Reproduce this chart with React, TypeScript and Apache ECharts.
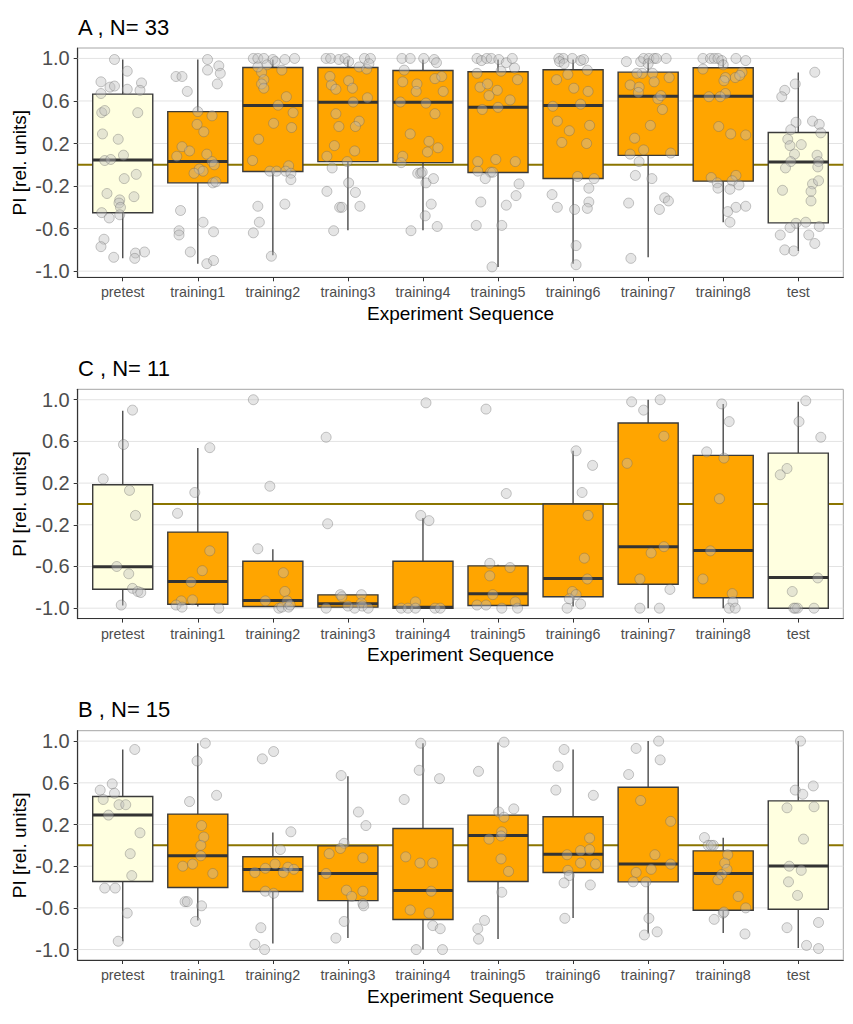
import React, { useEffect, useRef } from "react";
import * as echarts from "echarts";

const categories = ["pretest", "training1", "training2", "training3", "training4", "training5", "training6", "training7", "training8", "test"];
const controlCategories = ["pretest", "test"];
const yTicks = [-1.0, -0.6, -0.2, 0.2, 0.6, 1.0];
const panelTitles = ["A , N= 33", "C , N= 11", "B , N= 15"];
const yRanges = [[-1.058, 1.098], [-1.1, 1.1], [-1.1, 1.1]];
const xTitle = "Experiment Sequence";
const yTitle = "PI [rel. units]";

// box stats: [lowerWhisker, Q1, median, Q3, upperWhisker]
const boxA = [
  [-0.88, -0.451, 0.044, 0.664, 0.99],
  [-0.93, -0.17, 0.03, 0.5, 0.99],
  [-0.85, -0.063, 0.558, 0.915, 0.99],
  [-0.615, 0.03, 0.589, 0.915, 0.99],
  [-0.615, 0.02, 0.589, 0.887, 0.99],
  [-0.96, -0.072, 0.542, 0.874, 0.99],
  [-0.93, -0.129, 0.558, 0.893, 0.99],
  [-0.87, 0.088, 0.645, 0.871, 0.99],
  [-0.54, -0.154, 0.645, 0.912, 0.99],
  [-0.81, -0.546, 0.025, 0.304, 0.868],
];
const boxC = [
  [-0.974, -0.818, -0.603, 0.184, 0.894],
  [-0.984, -0.962, -0.744, -0.27, 0.536],
  [-0.984, -0.984, -0.926, -0.55, -0.434],
  [-0.99, -0.99, -0.958, -0.872, -0.872],
  [-1.0, -1.0, -0.99, -0.55, -0.136],
  [-0.974, -0.974, -0.862, -0.594, -0.584],
  [-0.984, -0.89, -0.715, 0.0, 0.51],
  [-1.0, -0.77, -0.41, 0.776, 1.0],
  [-1.0, -0.9, -0.446, 0.466, 0.96],
  [-1.0, -1.0, -0.706, 0.488, 0.98],
];
const boxB = [
  [-0.92, -0.347, 0.29, 0.469, 0.92],
  [-0.72, -0.405, -0.1, 0.3, 0.98],
  [-0.942, -0.443, -0.232, -0.11, 0.123],
  [-0.888, -0.53, -0.27, -0.005, 0.664],
  [-1.0, -0.712, -0.434, 0.162, 0.98],
  [-0.898, -0.347, 0.094, 0.29, 0.987],
  [-0.696, -0.26, -0.085, 0.274, 0.92],
  [-0.846, -0.35, -0.18, 0.558, 1.0],
  [-0.84, -0.623, -0.27, -0.053, 0.072],
  [-0.984, -0.613, -0.197, 0.427, 1.0],
];

// individual points per category: [jitter, value]
const pointsA = [
  [[-0.11, 0.99], [0.06, 0.88], [-0.29, 0.78], [-0.17, 0.73], [-0.11, 0.74], [0.25, 0.77], [0.06, 0.71], [0.23, 0.7], [-0.29, 0.67], [-0.28, 0.49], [-0.24, 0.51], [0.2, 0.49], [-0.27, 0.29], [-0.06, 0.24], [0.01, 0.09], [-0.24, 0.04], [-0.16, 0.05], [0.18, -0.09], [0.02, -0.13], [-0.21, -0.27], [0.15, -0.3], [-0.04, -0.33], [-0.05, -0.36], [-0.03, -0.4], [-0.28, -0.45], [-0.18, -0.5], [-0.04, -0.47], [-0.25, -0.7], [-0.29, -0.77], [-0.12, -0.87], [0.17, -0.83], [0.16, -0.88], [0.29, -0.82]],
  [[0.13, 0.99], [0.28, 0.93], [0.13, 0.89], [0.3, 0.86], [-0.29, 0.83], [-0.21, 0.83], [0.26, 0.76], [-0.14, 0.69], [0.0, 0.5], [0.19, 0.46], [-0.01, 0.38], [0.08, 0.31], [-0.21, 0.17], [-0.11, 0.13], [-0.28, 0.08], [0.12, 0.1], [0.19, 0.03], [0.22, 0.0], [0.02, -0.04], [0.07, -0.06], [-0.05, -0.08], [0.2, -0.17], [0.24, -0.16], [-0.23, -0.43], [0.07, -0.54], [-0.25, -0.62], [-0.25, -0.66], [0.21, -0.63], [-0.1, -0.82], [0.12, -0.93], [0.21, -0.9]],
  [[-0.26, 1.0], [-0.2, 1.0], [-0.12, 1.0], [0.0, 0.99], [0.16, 0.99], [0.29, 1.0], [-0.08, 0.94], [0.03, 0.97], [-0.15, 0.87], [0.12, 0.89], [-0.2, 0.92], [-0.12, 0.8], [-0.15, 0.76], [-0.12, 0.72], [0.18, 0.64], [0.07, 0.56], [0.27, 0.49], [0.01, 0.39], [0.25, 0.35], [-0.19, 0.24], [-0.27, 0.04], [0.21, -0.01], [-0.04, -0.06], [0.05, -0.06], [0.17, -0.06], [0.24, -0.08], [0.24, -0.14], [-0.2, -0.39], [0.16, -0.37], [-0.18, -0.54], [-0.26, -0.64], [-0.02, -0.86]],
  [[-0.29, 1.0], [-0.23, 1.0], [-0.12, 0.99], [-0.04, 1.0], [0.22, 1.0], [0.3, 1.0], [0.01, 0.97], [0.15, 0.92], [0.25, 0.9], [0.28, 0.95], [-0.24, 0.83], [-0.22, 0.75], [-0.16, 0.71], [0.01, 0.79], [0.06, 0.72], [0.26, 0.63], [0.07, 0.59], [-0.16, 0.48], [0.15, 0.41], [-0.12, 0.36], [0.1, 0.36], [-0.18, 0.18], [0.09, 0.13], [-0.28, 0.08], [-0.01, 0.03], [-0.21, -0.03], [0.01, -0.17], [-0.28, -0.25], [0.1, -0.26], [-0.11, -0.4], [-0.08, -0.4], [0.16, -0.39], [-0.19, -0.62]],
  [[-0.28, 1.0], [-0.17, 1.0], [0.01, 1.0], [-0.25, 0.89], [-0.27, 0.78], [-0.08, 0.76], [-0.09, 0.69], [-0.3, 0.59], [0.04, 0.58], [-0.17, 0.29], [0.08, 0.22], [0.06, 0.12], [-0.27, 0.08], [-0.29, 0.02], [-0.07, -0.08], [-0.03, -0.08], [0.04, -0.17], [0.03, -0.48], [-0.16, -0.62], [0.15, 0.99], [0.18, 0.96], [0.16, 0.81], [0.25, 0.83], [0.27, 0.69], [0.16, 0.48], [0.2, 0.16], [0.14, -0.13], [0.11, -0.37], [0.19, -0.58], [-0.01, -0.07]],
  [[-0.28, 1.0], [-0.22, 0.98], [-0.15, 1.0], [-0.09, 1.0], [0.01, 0.99], [0.11, 0.96], [0.19, 1.0], [0.22, 0.91], [0.04, 0.88], [-0.28, 0.86], [-0.24, 0.73], [-0.14, 0.76], [-0.01, 0.7], [-0.12, 0.65], [0.16, 0.61], [0.26, 0.8], [-0.21, 0.52], [0.0, 0.54], [-0.27, 0.03], [-0.03, 0.05], [0.23, 0.03], [-0.27, -0.06], [-0.1, -0.07], [-0.17, -0.13], [-0.07, -0.07], [0.28, -0.18], [0.24, -0.29], [-0.23, -0.35], [0.11, -0.38], [-0.29, -0.57], [0.05, -0.57], [-0.08, -0.96]],
  [[-0.19, 1.0], [-0.13, 1.0], [-0.01, 1.0], [0.1, 0.98], [0.14, 0.99], [-0.18, 0.97], [0.19, 0.89], [-0.12, 0.95], [-0.07, 0.85], [-0.22, 0.8], [0.01, 0.72], [0.2, 0.69], [-0.27, 0.55], [0.1, 0.57], [-0.21, 0.41], [0.22, 0.37], [-0.05, 0.32], [-0.15, 0.21], [0.18, 0.2], [0.06, -0.11], [0.28, -0.13], [0.21, -0.22], [-0.28, -0.28], [0.21, -0.35], [-0.21, -0.4], [0.02, -0.42], [0.19, -0.41], [0.04, -0.76], [0.04, -0.94]],
  [[-0.29, 0.97], [-0.1, 0.97], [-0.06, 1.0], [0.01, 1.0], [0.08, 1.0], [0.11, 1.0], [0.24, 1.0], [0.0, 0.95], [-0.08, 0.86], [-0.15, 0.86], [0.06, 0.86], [0.28, 0.82], [-0.24, 0.75], [-0.12, 0.73], [-0.13, 0.68], [0.08, 0.78], [0.13, 0.62], [0.17, 0.65], [0.19, 0.52], [0.03, 0.37], [-0.18, 0.25], [-0.06, 0.14], [0.3, 0.11], [-0.24, 0.1], [-0.12, 0.03], [-0.17, -0.1], [0.05, -0.13], [-0.26, -0.36], [0.22, -0.31], [0.27, -0.34], [0.15, -0.42], [-0.23, -0.88]],
  [[-0.27, 1.0], [-0.17, 1.0], [-0.12, 1.0], [-0.07, 1.0], [-0.02, 0.98], [0.17, 1.0], [0.3, 0.98], [0.0, 0.94], [-0.27, 0.9], [0.25, 0.87], [0.16, 0.82], [0.03, 0.82], [0.22, 0.84], [0.01, 0.79], [0.03, 0.67], [-0.19, 0.64], [-0.04, 0.64], [-0.06, 0.36], [0.1, 0.29], [0.3, 0.28], [-0.16, -0.12], [0.17, -0.1], [-0.08, -0.17], [0.12, -0.15], [0.21, -0.19], [-0.07, -0.22], [0.09, -0.23], [0.17, -0.4], [0.06, -0.44], [0.3, -0.39], [0.09, -0.54]],
  [[0.22, 0.87], [-0.04, 0.76], [-0.18, 0.7], [-0.22, 0.64], [-0.03, 0.4], [0.19, 0.41], [0.28, 0.38], [-0.1, 0.33], [0.3, 0.3], [-0.14, 0.24], [-0.11, 0.18], [0.04, 0.19], [-0.05, 0.1], [0.25, 0.09], [-0.1, 0.03], [0.27, 0.03], [0.26, -0.02], [-0.17, -0.03], [0.19, -0.18], [0.27, -0.15], [0.17, -0.25], [-0.21, -0.24], [0.17, -0.34], [-0.03, -0.55], [0.1, -0.54], [-0.11, -0.59], [0.28, -0.58], [-0.24, -0.66], [0.14, -0.66], [0.22, -0.74], [-0.18, -0.8], [-0.06, -0.81]],
];
const pointsC = [
  [[0.13, 0.9], [0.01, 0.57], [-0.26, 0.24], [0.09, 0.13], [0.17, -0.11], [-0.08, -0.6], [0.08, -0.67], [0.13, -0.81], [0.2, -0.84], [0.24, -0.85], [-0.02, -0.97]],
  [[0.16, 0.54], [-0.04, 0.11], [-0.27, -0.09], [0.16, -0.45], [0.06, -0.64], [-0.09, -0.75], [-0.22, -0.93], [-0.07, -0.92], [-0.29, -0.97], [-0.21, -0.99], [0.28, -1.0]],
  [[-0.26, 1.0], [-0.04, 0.17], [-0.2, -0.43], [0.14, -0.66], [0.16, -0.84], [-0.1, -0.93], [0.19, -0.93], [0.08, -1.0], [0.12, -0.99], [0.21, -0.99], [0.23, -0.97]],
  [[-0.29, 0.64], [-0.27, -0.19], [-0.1, -0.87], [-0.08, -0.89], [0.18, -0.87], [0.18, -0.95], [0.19, -0.98], [-0.29, -1.0], [0.09, -1.0], [0.27, -1.0], [0.0, -0.98]],
  [[0.04, 0.97], [-0.03, -0.11], [0.08, -0.16], [-0.1, -0.94], [-0.29, -1.0], [-0.2, -1.0], [-0.1, -1.0], [0.16, -1.0], [0.23, -1.0]],
  [[-0.16, 0.91], [0.11, 0.1], [-0.11, -0.57], [0.16, -0.61], [-0.11, -0.69], [-0.07, -0.87], [0.23, -0.94], [-0.28, -0.97], [-0.16, -0.97], [0.05, -1.0], [0.26, -1.0]],
  [[0.04, 0.51], [0.26, 0.37], [0.12, 0.11], [0.2, -0.11], [0.15, -0.52], [0.19, -0.72], [-0.01, -0.84], [0.04, -0.87], [-0.05, -0.91], [0.1, -0.96], [-0.08, -1.0]],
  [[-0.22, 0.98], [0.16, 1.0], [-0.06, 0.9], [0.21, 0.65], [-0.28, 0.39], [0.21, -0.41], [0.04, -0.47], [-0.11, -0.72], [0.29, -0.82], [-0.11, -1.0], [0.15, -1.0]],
  [[-0.02, 0.96], [0.08, 0.79], [-0.22, 0.5], [0.01, 0.44], [-0.05, 0.05], [-0.17, -0.45], [-0.27, -0.72], [0.12, -0.86], [0.13, -0.94], [0.08, -1.0], [0.16, -1.0]],
  [[0.1, 0.99], [0.01, 0.79], [0.3, 0.64], [-0.15, 0.34], [-0.24, 0.28], [0.26, -0.71], [-0.08, -0.84], [-0.06, -1.0], [-0.01, -1.0], [0.21, -1.0], [-0.04, -1.0]],
];
const pointsB = [
  [[0.16, 0.92], [-0.14, 0.59], [-0.3, 0.53], [-0.11, 0.5], [-0.26, 0.44], [-0.05, 0.39], [0.04, 0.39], [-0.19, 0.29], [0.23, 0.12], [0.1, -0.08], [0.12, -0.29], [-0.24, -0.41], [-0.1, -0.41], [0.06, -0.65], [-0.06, -0.92]],
  [[0.1, 0.98], [-0.01, 0.81], [-0.11, 0.42], [0.25, 0.48], [0.05, 0.19], [0.08, 0.08], [0.04, 0.0], [0.04, -0.1], [-0.2, -0.2], [-0.07, -0.18], [0.2, -0.27], [-0.17, -0.54], [-0.14, -0.54], [0.05, -0.58], [-0.03, -0.73]],
  [[-0.14, 0.83], [0.01, 0.9], [0.24, 0.13], [0.1, -0.04], [0.03, -0.18], [-0.1, -0.22], [0.2, -0.21], [0.28, -0.23], [-0.24, -0.26], [0.14, -0.26], [-0.1, -0.44], [0.01, -0.46], [-0.16, -0.79], [-0.24, -0.95], [-0.11, -1.0]],
  [[-0.09, 0.67], [0.14, 0.32], [0.24, 0.19], [-0.05, 0.02], [-0.1, -0.03], [-0.25, -0.08], [0.2, -0.12], [-0.29, -0.27], [-0.02, -0.43], [0.2, -0.44], [0.05, -0.49], [0.2, -0.56], [0.21, -0.58], [-0.05, -0.73], [-0.16, -0.89]],
  [[-0.03, 0.98], [-0.05, 0.72], [-0.25, 0.44], [-0.23, -0.11], [-0.04, -0.17], [-0.17, -0.62], [-0.09, -1.0], [0.11, -0.44], [0.08, -0.65], [0.22, 0.64], [0.13, -0.17], [0.13, -0.77], [0.23, -0.8], [0.26, -1.0]],
  [[0.08, 0.99], [-0.26, 0.71], [0.21, 0.35], [0.01, 0.32], [0.08, 0.27], [0.05, 0.13], [0.04, 0.09], [-0.12, 0.06], [0.04, -0.13], [0.14, -0.25], [0.05, -0.45], [-0.18, -0.72], [-0.27, -0.8], [-0.26, -0.9]],
  [[-0.12, 0.92], [-0.2, 0.76], [-0.23, 0.53], [0.27, 0.48], [0.22, 0.07], [0.1, -0.05], [0.22, -0.04], [-0.08, -0.09], [0.1, -0.17], [0.3, -0.18], [-0.07, -0.24], [-0.05, -0.29], [-0.12, -0.36], [0.23, -0.38], [-0.11, -0.7]],
  [[0.14, 1.0], [-0.16, 0.93], [0.16, 0.82], [-0.26, 0.68], [-0.1, 0.43], [0.3, 0.23], [0.09, -0.09], [0.3, -0.18], [0.04, -0.23], [-0.16, -0.26], [-0.2, -0.35], [-0.03, -0.35], [0.01, -0.7], [0.12, -0.83], [-0.05, -0.86]],
  [[-0.25, 0.075], [-0.2, 0.0], [-0.13, 0.0], [-0.16, 0.0], [0.06, -0.09], [0.02, -0.17], [0.05, -0.23], [-0.02, -0.28], [-0.07, -0.33], [0.2, -0.49], [0.3, -0.6], [0.0, -0.65], [0.01, -0.64], [-0.12, -0.71], [0.29, -0.85]],
  [[0.03, 1.0], [0.2, 0.57], [-0.04, 0.53], [0.06, 0.49], [-0.15, 0.36], [0.21, 0.37], [0.07, 0.06], [-0.12, -0.2], [0.04, -0.24], [-0.13, -0.35], [-0.01, -0.48], [0.27, -0.74], [-0.15, -0.79], [0.11, -0.96], [0.27, -0.99]],
];

const panelBoxes = [boxA, boxC, boxB];
const panelPoints = [pointsA, pointsC, pointsB];

const FONT = "'Liberation Sans', Arial, sans-serif";
const GRID_LEFT = 77.7;
const GRID_WIDTH = 765.6;
const GRID_TOPS = [48, 389.3, 730.7];
const GRID_HEIGHT = 229.3;

function hLine(color: string, width: number) {
  return (params: any, api: any) => {
    const cs = params.coordSys;
    const p = api.coord([1, api.value(1)]);
    return {
      type: "line",
      shape: { x1: cs.x, y1: p[1], x2: cs.x + cs.width, y2: p[1] },
      style: { stroke: color, lineWidth: width },
      silent: true,
    };
  };
}

function boxRender(params: any, api: any) {
  const x = api.value(0);
  const lo = api.value(1), q1 = api.value(2), med = api.value(3), q3 = api.value(4), hi = api.value(5);
  const half = 0.4;
  const pTop = api.coord([x, hi]);
  const pQ3 = api.coord([x, q3]);
  const pQ1 = api.coord([x, q1]);
  const pLo = api.coord([x, lo]);
  const pL = api.coord([x - half, q3]);
  const pR = api.coord([x + half, q1]);
  const pMed = api.coord([x, med]);
  const cat = categories[params.dataIndex];
  const fill = controlCategories.includes(cat) ? "#FFFFE0" : "#FFA500";
  return {
    type: "group",
    children: [
      { type: "line", shape: { x1: pTop[0], y1: pTop[1], x2: pQ3[0], y2: pQ3[1] }, style: { stroke: "#4a4a4a", lineWidth: 1.4 } },
      { type: "line", shape: { x1: pQ1[0], y1: pQ1[1], x2: pLo[0], y2: pLo[1] }, style: { stroke: "#4a4a4a", lineWidth: 1.4 } },
      { type: "rect", shape: { x: pL[0], y: pL[1], width: pR[0] - pL[0], height: pR[1] - pL[1] }, style: { fill, stroke: "#3a3a3a", lineWidth: 1.4 } },
      { type: "line", shape: { x1: pL[0], y1: pMed[1], x2: pR[0], y2: pMed[1] }, style: { stroke: "#333333", lineWidth: 3 } },
    ],
  };
}

export default function App() {
  const ref = useRef<HTMLDivElement>(null);
  useEffect(() => {
    document.body.style.margin = "0";
    if (!ref.current) return;
    const chart = echarts.init(ref.current, undefined, { renderer: "svg" });
    const grids: any[] = [];
    const xAxes: any[] = [];
    const yAxes: any[] = [];
    const series: any[] = [];
    const graphics: any[] = [];
    for (let i = 0; i < 3; i++) {
      const top = GRID_TOPS[i];
      grids.push({ left: GRID_LEFT, top, width: GRID_WIDTH, height: GRID_HEIGHT, show: true, borderColor: "#a6a6a6", borderWidth: 1, backgroundColor: "#ffffff" });
      xAxes.push({
        type: "value", gridIndex: i, min: 0.4, max: 10.6,
        splitLine: { show: false },
        axisLine: { show: true, onZero: false, lineStyle: { color: "#333333", width: 1.2 } },
        axisTick: { show: true, length: 4, customValues: categories.map((_, j) => j + 1), lineStyle: { color: "#333333" } },
        axisLabel: {
          customValues: categories.map((_, j) => j + 1),
          formatter: (v: number) => categories[Math.round(v) - 1] ?? "",
          color: "#4D4D4D", fontSize: 14.3, fontFamily: FONT, margin: 8,
        },
      });
      yAxes.push({
        type: "value", gridIndex: i, min: yRanges[i][0], max: yRanges[i][1],
        splitLine: { show: false },
        axisLine: { show: true, onZero: false, lineStyle: { color: "#333333", width: 1.2 } },
        axisTick: { show: true, length: 4, customValues: yTicks, lineStyle: { color: "#333333" } },
        axisLabel: {
          customValues: yTicks,
          formatter: (v: number) => v.toFixed(1),
          color: "#4D4D4D", fontSize: 20, fontFamily: FONT, margin: 8,
        },
      });
      series.push({
        type: "custom", xAxisIndex: i, yAxisIndex: i, z: 1, silent: true,
        data: yTicks.map((v) => [1, v]), encode: { x: 0, y: 1 },
        renderItem: hLine("#e3e3e3", 1),
      });
      series.push({
        type: "custom", xAxisIndex: i, yAxisIndex: i, z: 1, silent: true,
        data: [[1, 0]], encode: { x: 0, y: 1 },
        renderItem: hLine("#8B7500", 2),
      });
      series.push({
        type: "custom", xAxisIndex: i, yAxisIndex: i, z: 2, silent: true,
        data: panelBoxes[i].map((b, j) => [j + 1, ...b]),
        encode: { x: 0, y: [1, 2, 3, 4, 5] },
        renderItem: boxRender,
      });
      series.push({
        type: "scatter", xAxisIndex: i, yAxisIndex: i, z: 3, silent: true,
        symbol: "circle", symbolSize: 10,
        itemStyle: { color: "rgba(190,190,190,0.5)", borderColor: "rgba(100,100,100,0.45)", borderWidth: 1 },
        data: panelPoints[i].flatMap((arr, j) => arr.map(([dx, v]) => [j + 1 + dx, v])),
      });
      const cy = top + GRID_HEIGHT / 2;
      graphics.push({
        type: "text", left: 78, top: top - 32,
        style: { text: panelTitles[i], fontSize: 22, fontFamily: FONT, fill: "#000000" },
      });
      graphics.push({
        type: "text", x: 19, y: cy, rotation: Math.PI / 2,
        style: { text: yTitle, fontSize: 19, fontFamily: FONT, fill: "#000000", align: "center", verticalAlign: "middle" },
      });
      graphics.push({
        type: "text", x: GRID_LEFT + GRID_WIDTH / 2, y: top + GRID_HEIGHT + 36,
        style: { text: xTitle, fontSize: 19, fontFamily: FONT, fill: "#000000", align: "center", verticalAlign: "middle" },
      });
    }
    chart.setOption({
      animation: false,
      backgroundColor: "#ffffff",
      grid: grids,
      xAxis: xAxes,
      yAxis: yAxes,
      series,
      graphic: graphics,
    });
    return () => chart.dispose();
  }, []);
  return <div ref={ref} style={{ width: 853, height: 1024 }} />;
}
